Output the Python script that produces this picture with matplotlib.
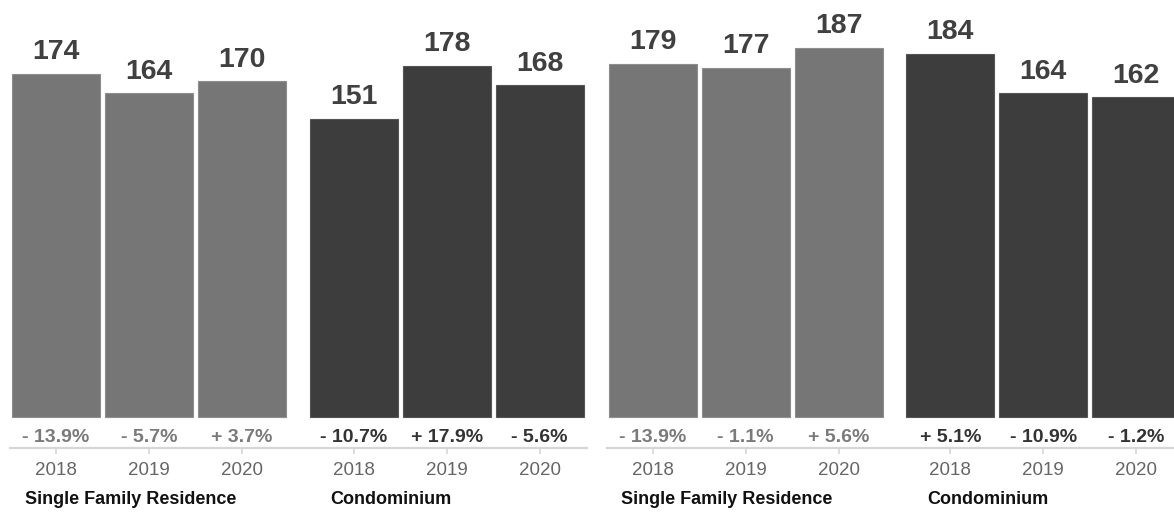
import matplotlib
matplotlib.use("Agg")
import matplotlib.pyplot as plt

plt.rcParams["font.family"] = ["Liberation Sans", "DejaVu Sans"]

YEARS = ["2018", "2019", "2020"]
CATEGORIES = ["Single Family Residence", "Condominium"]

# left panel
LEFT_SFR = [174, 164, 170]
LEFT_CONDO = [151, 178, 168]
LEFT_SFR_PCT = [-13.9, -5.7, 3.7]
LEFT_CONDO_PCT = [-10.7, 17.9, -5.6]

# right panel
RIGHT_SFR = [179, 177, 187]
RIGHT_CONDO = [184, 164, 162]
RIGHT_SFR_PCT = [-13.9, -1.1, 5.6]
RIGHT_CONDO_PCT = [5.1, -10.9, -1.2]

SFR_COLOR = "#767676"
CONDO_COLOR = "#3d3d3d"
SFR_EDGE = "#8e8e8e"
CONDO_EDGE = "#555555"
VALUE_COLOR = "#404040"
SFR_PCT_COLOR = "#7a7a7a"
CONDO_PCT_COLOR = "#333333"
AXIS_COLOR = "#d6d6d6"

GROUP_POS = [[0, 1, 2], [3.2, 4.2, 5.2]]
LABEL_POS = [0.8, 3.6]
BAR_WIDTH = 0.946


def fmt_pct(v):
    sign = "+" if v > 0 else "-"
    return f"{sign} {abs(v):.1f}%"


def draw_panel(ax, sfr, condo, sfr_pct, condo_pct):
    groups = [
        (sfr, sfr_pct, SFR_COLOR, SFR_EDGE, SFR_PCT_COLOR),
        (condo, condo_pct, CONDO_COLOR, CONDO_EDGE, CONDO_PCT_COLOR),
    ]
    ticks = []
    for pos, (vals, pcts, color, edge, pct_color) in zip(GROUP_POS, groups):
        ax.bar(pos, vals, width=BAR_WIDTH, color=color, edgecolor=edge, linewidth=0.8)
        for x, v, p in zip(pos, vals, pcts):
            ax.annotate(str(v), xy=(x, v), xytext=(0, 10.5), textcoords="offset points",
                        ha="center", va="baseline", fontsize=20.5, fontweight="bold",
                        color=VALUE_COLOR)
            ax.annotate(fmt_pct(p), xy=(x, 0), xytext=(0, -18), textcoords="offset points",
                        ha="center", va="baseline", fontsize=14, fontweight="bold",
                        color=pct_color)
        ticks.extend(pos)

    for x, name in zip(LABEL_POS, CATEGORIES):
        ax.annotate(name, xy=(x, 0), xycoords=("data", "axes fraction"),
                    xytext=(0, -40), textcoords="offset points",
                    ha="center", va="baseline", fontsize=13, fontweight="bold",
                    color="#111111")

    ax.set_xticks(ticks)
    ax.set_xticklabels(YEARS * 2)
    ax.set_xlim(-0.495, 5.709)
    ax.set_ylim(-16, 211.3)
    ax.set_yticks([])
    for side in ["top", "left", "right"]:
        ax.spines[side].set_visible(False)
    ax.spines["bottom"].set_color(AXIS_COLOR)
    ax.spines["bottom"].set_linewidth(1.6)
    ax.tick_params(axis="x", length=4, width=1.2, color=AXIS_COLOR, pad=6,
                   labelsize=13.5, labelcolor="#666666")


fig = plt.figure(figsize=(11.74, 5.16), dpi=100)
W, H = 1174, 516
bottom = (H - 448.3) / H
height = 448.3 / H
ax_left = fig.add_axes([10 / W, bottom, 577 / W, height])
ax_right = fig.add_axes([606.7 / W, bottom, 577 / W, height])

draw_panel(ax_left, LEFT_SFR, LEFT_CONDO, LEFT_SFR_PCT, LEFT_CONDO_PCT)
draw_panel(ax_right, RIGHT_SFR, RIGHT_CONDO, RIGHT_SFR_PCT, RIGHT_CONDO_PCT)

fig.savefig("out.png", dpi=100, facecolor="white")
